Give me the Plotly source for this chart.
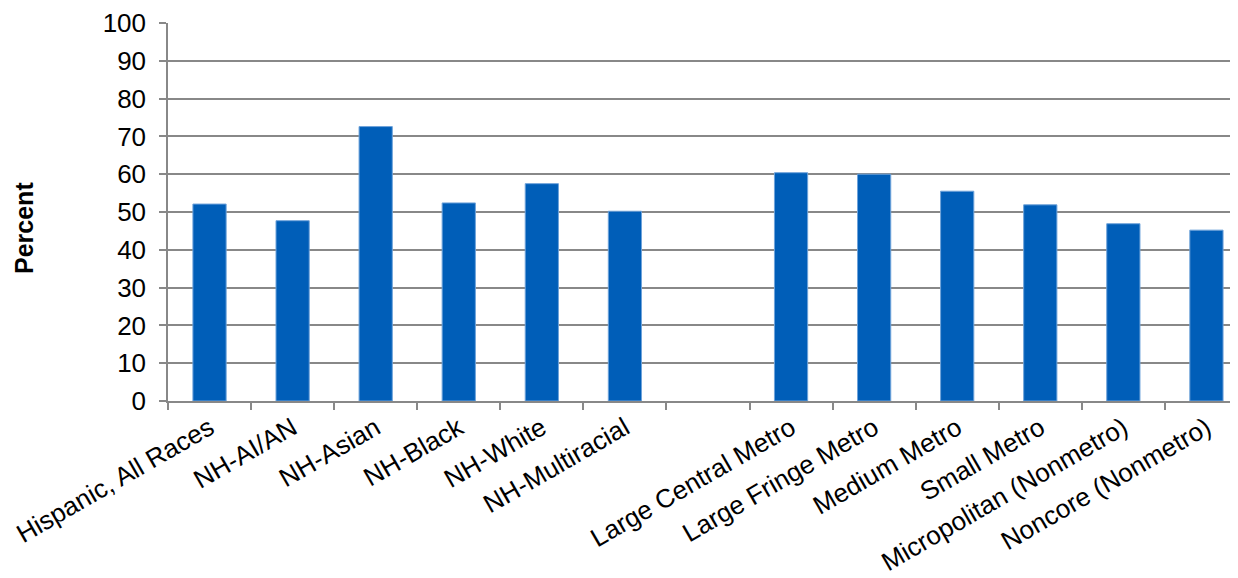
import plotly.graph_objects as go

categories = ["Hispanic, All Races", "NH-AI/AN", "NH-Asian", "NH-Black", "NH-White",
              "NH-Multiracial", " ", "Large Central Metro", "Large Fringe Metro",
              "Medium Metro", "Small Metro", "Micropolitan (Nonmetro)", "Noncore (Nonmetro)"]
values = [52.1, 47.7, 72.6, 52.4, 57.5, 50.2, None, 60.4, 60.0, 55.5, 51.9, 46.9, 45.2]
y_ticks = list(range(0, 101, 10))

fig = go.Figure(go.Bar(
    x=categories, y=values,
    marker=dict(color="#005EB8", line=dict(color="#6FA3DA", width=1)),
    width=0.4,
))

font = dict(family="Liberation Sans, Arial, sans-serif", size=26, color="#000000")
fig.update_layout(
    width=1230, height=570,
    margin=dict(l=160, r=0, t=15, b=177),
    paper_bgcolor="white", plot_bgcolor="white",
    showlegend=False,
    font=font,
    xaxis=dict(
        type="category", range=[-0.5, 12.38], automargin=False,
        showline=True, linecolor="#888888", linewidth=1.5,
        ticks="outside", ticklen=7, tickcolor="#888888", tickwidth=1.5,
        tickson="boundaries", tickangle=-30, showgrid=False,
        tickfont=font,
    ),
    yaxis=dict(
        range=[0, 100], tickvals=y_ticks, automargin=False,
        showline=True, linecolor="#888888", linewidth=1.5,
        ticks="outside", ticklen=7, tickcolor="#888888", tickwidth=1.5,
        ticklabelstandoff=8,
        showgrid=True, gridcolor="#888888", gridwidth=1.5,
        zeroline=False, tickfont=font,
    ),
    annotations=[dict(
        text="<b>Percent</b>", textangle=-90,
        xref="paper", yref="paper",
        x=(16 - 160) / 1070, y=(393 - 220) / 378,
        xanchor="center", yanchor="middle", showarrow=False,
        font=dict(family="Liberation Sans, Arial, sans-serif", size=25, color="#000000"),
    )],
)

fig.write_html("out.html")
